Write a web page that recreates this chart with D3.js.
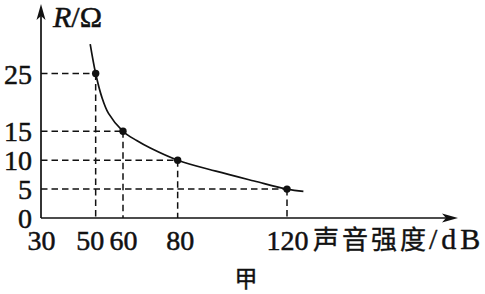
<!DOCTYPE html>
<html><head><meta charset="utf-8">
<script src="https://cdn.jsdelivr.net/npm/d3@7"></script>
<style>html,body{margin:0;padding:0;background:#fff;}</style>
</head><body>
<svg id="c" width="485" height="294"></svg>
<script>
const xTicks = [30, 50, 60, 80, 120];
const yTicks = [0, 5, 10, 15, 25];
const markedX = [50, 60, 80, 120];
const markedR = [25, 15, 10, 5];
const curveX = [48, 50, 52.2, 54.7, 60, 65, 70, 80, 94, 108, 120, 126];
const curveR = [30.1, 25, 21, 18.1, 15, 13.4, 12.1, 10, 8.1, 6.4, 5, 4.6];
const xLabel = "声音强度";
const xUnit = "/dB";
const caption = "甲";

const svg = d3.select("#c");
const x = d3.scaleLinear().domain([30, 120]).range([41, 287]);
const y = d3.scaleLinear().domain([0, 25]).range([218, 73.5]);
const serif = "'Liberation Serif','Times New Roman','Noto Serif','DejaVu Serif',serif";
const cjk = "'Noto Sans CJK SC','Noto Sans CJK JP',sans-serif";
const ink = "#111";

// dashed guides
const g = svg.append("g").attr("stroke", ink).attr("stroke-width", 1.5).attr("stroke-dasharray", "6.5,4").attr("fill", "none");
markedX.forEach((v, i) => {
  g.append("line").attr("x1", x(30)).attr("x2", x(v)).attr("y1", y(markedR[i])).attr("y2", y(markedR[i]));
  g.append("line").attr("x1", x(v)).attr("x2", x(v)).attr("y1", y(markedR[i])).attr("y2", y(0));
});

const styleText = sel => sel.style("font-family", serif).attr("font-size", 28).attr("fill", ink)
  .attr("stroke", ink).attr("stroke-width", 0.5);

// axes via d3
const ax = svg.append("g").attr("transform", `translate(0,${y(0)})`)
  .call(d3.axisBottom(x).tickValues(xTicks).tickSize(0).tickPadding(12).tickFormat(d3.format("d")));
ax.select(".domain").remove();
ax.attr("font-family", null);
ax.selectAll("text").call(styleText).attr("dy", "0.71em");
ax.selectAll(".tick").filter(d => d === 50).select("text").attr("dx", -6);
ax.selectAll(".tick").filter(d => d === 80).select("text").attr("dx", 2);
const ay = svg.append("g").attr("transform", `translate(${x(30)},0)`)
  .call(d3.axisLeft(y).tickValues(yTicks).tickSize(0).tickPadding(9).tickFormat(d3.format("d")));
ay.select(".domain").remove();
ay.attr("font-family", null);
ay.selectAll("text").call(styleText).attr("dy", "0.34em");

// axis lines with arrows
svg.append("line").attr("x1", x(30)).attr("x2", x(30)).attr("y1", y(0)).attr("y2", 12).attr("stroke", ink).attr("stroke-width", 1.7);
svg.append("path").attr("d", `M${x(30)},4 L${x(30) - 4.5},20 L${x(30)},16 L${x(30) + 4.5},20 Z`).attr("fill", ink);
svg.append("line").attr("x1", x(30)).attr("x2", 450).attr("y1", y(0)).attr("y2", y(0)).attr("stroke", ink).attr("stroke-width", 1.7);
svg.append("path").attr("d", `M458,${y(0)} L442,${y(0) - 4.5} L446,${y(0)} L442,${y(0) + 4.5} Z`).attr("fill", ink);

// curve
const pts = curveX.map((v, i) => [v, curveR[i]]);
svg.append("path").datum(pts)
  .attr("d", d3.line().x(d => x(d[0])).y(d => y(d[1])).curve(d3.curveCatmullRom.alpha(0.5)))
  .attr("fill", "none").attr("stroke", ink).attr("stroke-width", 1.7);

// points
svg.selectAll("circle.p").data(markedX).join("circle").attr("class", "p")
  .attr("cx", d => x(d)).attr("cy", (d, i) => y(markedR[i])).attr("r", 3.7).attr("fill", ink);

// labels
const t = svg.append("text").attr("x", 53).attr("y", 27).call(styleText).attr("font-size", 30);
t.append("tspan").attr("font-style", "italic").text("R");
t.append("tspan").text("/Ω");

const xl = svg.append("text").attr("x", 313).attr("y", 249).attr("fill", ink).attr("stroke", ink).attr("stroke-width", 0.4);
xl.append("tspan").style("font-family", cjk).attr("font-size", 26).attr("letter-spacing", 3).text(xLabel);
xl.append("tspan").style("font-family", serif).attr("font-size", 30).attr("letter-spacing", 4).text(xUnit);

svg.append("text").attr("x", 246).attr("y", 287).attr("text-anchor", "middle").style("font-family", cjk)
  .attr("font-size", 23).attr("fill", ink).attr("stroke", ink).attr("stroke-width", 0.4).text(caption);
</script>
</body></html>
